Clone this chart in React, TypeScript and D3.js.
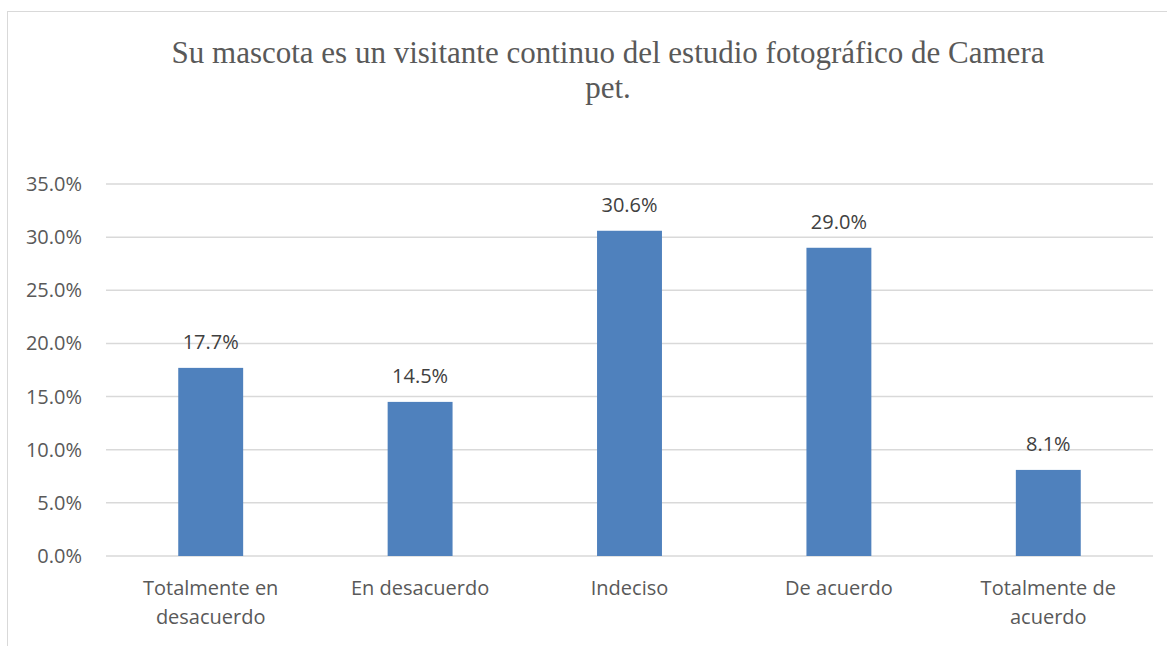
import React from "react";
import * as d3 from "d3";

const categories: string[][] = [
  ["Totalmente en", "desacuerdo"],
  ["En desacuerdo"],
  ["Indeciso"],
  ["De acuerdo"],
  ["Totalmente de", "acuerdo"],
];
const values: number[] = [0.177, 0.145, 0.306, 0.29, 0.081];
const yTicks: number[] = [0, 0.05, 0.1, 0.15, 0.2, 0.25, 0.3, 0.35];
const titleLines: string[] = [
  "Su mascota es un visitante continuo del estudio fotográfico de Camera",
  "pet.",
];

export default function App() {
  const W = 1167;
  const H = 646;
  const left = 106;
  const right = 1153;
  const top = 184;
  const bottom = 556;
  const x = d3
    .scaleBand<number>()
    .domain(values.map((_, i) => i))
    .range([left, right])
    .paddingInner(0.69)
    .paddingOuter(0.345);
  const y = d3.scaleLinear().domain([0, 0.35]).range([bottom, top]);
  const fmt = d3.format(".1%");
  const sans = "'Open Sans', 'DejaVu Sans', sans-serif";
  const textColor = "#595959";
  return (
    <svg
      width={W}
      height={H}
      style={{ position: "absolute", left: 0, top: 0, background: "#fff" }}
    >
      <rect x={7.5} y={11.5} width={1200} height={700} fill="#fff" stroke="#d9d9d9" strokeWidth={1} />
      {titleLines.map((t, i) => (
        <text
          key={i}
          x={608}
          y={63 + i * 35}
          textAnchor="middle"
          fontFamily="'Liberation Serif', 'Times New Roman', serif"
          fontSize={31}
          fill={textColor}
        >
          {t}
        </text>
      ))}
      {yTicks.map((t) => (
        <g key={t}>
          <line x1={left} x2={right} y1={y(t)} y2={y(t)} stroke="#d9d9d9" strokeWidth={1.5} />
          <text
            x={82}
            y={y(t)}
            dy="0.35em"
            textAnchor="end"
            fontFamily={sans}
            fontSize={20}
            fill={textColor}
          >
            {fmt(t)}
          </text>
        </g>
      ))}
      {values.map((v, i) => (
        <g key={i}>
          <rect
            x={x(i)!}
            y={y(v)}
            width={x.bandwidth()}
            height={y(0) - y(v)}
            fill="#4f81bd"
          />
          <text
            x={x(i)! + x.bandwidth() / 2}
            y={y(v) - 25.5}
            dy="0.35em"
            textAnchor="middle"
            fontFamily={sans}
            fontSize={20}
            fill="#404040"
          >
            {fmt(v)}
          </text>
          {categories[i].map((line, j) => (
            <text
              key={j}
              x={x(i)! + x.bandwidth() / 2}
              y={588 + j * 29}
              dy="0.35em"
              textAnchor="middle"
              fontFamily={sans}
              fontSize={20}
              fill={textColor}
            >
              {line}
            </text>
          ))}
        </g>
      ))}
    </svg>
  );
}
